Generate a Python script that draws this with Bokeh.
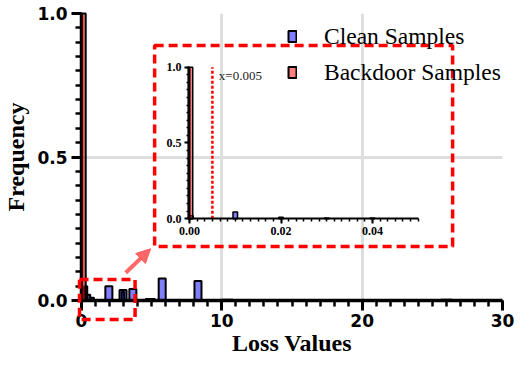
from bokeh.plotting import figure
from bokeh.models import (Range1d, LinearAxis, FixedTicker, Legend, LegendItem,
                          Arrow, NormalHead, Label, NumeralTickFormatter)
from bokeh.embed import file_html
from bokeh.resources import INLINE

# ---------------- data ----------------
# main histogram (loss values 0..30)
clean_x = [0.3, 0.52, 0.76, 1.95, 2.96, 2.95, 3.66, 4.9, 5.75, 8.3, 10.4, 26.0]
clean_h = [0.05, 0.02, 0.01, 0.05, 0.037, 0.03, 0.04, 0.005, 0.077, 0.068, 0.003, 0.003]
clean_w = [0.22, 0.2, 0.25, 0.5, 0.5, 0.18, 0.5, 0.65, 0.5, 0.5, 0.8, 0.8]
backdoor_x = [0.0]
backdoor_h = [1.0]
backdoor_w = [0.6]

# inset (zoom on 0..0.05)
inset_clean_x = [0.0003, 0.01, 0.02, 0.03, 0.04]
inset_clean_h = [0.02, 0.045, 0.01, 0.004, 0.004]
inset_backdoor_x = [0.0002]
inset_backdoor_h = [1.0]
inset_w = 0.001
threshold = 0.005

main_xticks = [0, 10, 20, 30]
main_yticks = [0.0, 0.5, 1.0]
inset_xticks = [0.0, 0.02, 0.04]
inset_yticks = [0.0, 0.5, 1.0]

# ---------------- layout (screen pixels) ----------------
W, H = 514, 360
OX, OY = 4, 1                        # where the figure's top-left lands on screen
FL, FR, FT, FB = 84, 506, 14, 301    # main frame edges on screen
X0, X1, Y0, Y1 = 0, 30, 0.0, 1.0


def mx(px):
    return X0 + (px - FL) / (FR - FL) * (X1 - X0)


def my(py):
    return Y0 + (FB - py) / (FB - FT) * (Y1 - Y0)


p = figure(width=W, height=H, x_range=Range1d(X0, X1), y_range=Range1d(Y0, Y1),
           output_backend="svg", toolbar_location=None,
           min_border_left=FL - OX, min_border_right=W - (FR - OX),
           min_border_top=FT - OY, min_border_bottom=H - (FB - OY))
p.outline_line_color = None

xa = p.xaxis[0]
ya = p.yaxis[0]
xa.ticker = FixedTicker(ticks=main_xticks, minor_ticks=list(range(0, 31)))
ya.ticker = FixedTicker(ticks=main_yticks, minor_ticks=[round(i * 0.05, 2) for i in range(21)])
ya.formatter = NumeralTickFormatter(format="0.0")
for ax in (xa, ya):
    ax.axis_line_width = 3.5
    ax.axis_line_color = "black"
    ax.major_tick_line_width = 3
    ax.minor_tick_line_width = 2.5
    ax.major_tick_out = 10
    ax.major_tick_in = 0
    ax.minor_tick_out = 6
    ax.minor_tick_in = 0
    ax.major_label_text_font = "DejaVu Sans"
    ax.major_label_text_font_style = "bold"
    ax.major_label_text_font_size = "17px"
    ax.major_label_text_color = "black"
    ax.axis_label_text_font = "Liberation Serif"
    ax.axis_label_text_font_style = "bold"
    ax.axis_label_text_font_size = "24px"
    ax.axis_label_text_color = "black"
xa.major_label_standoff = 3
xa.axis_label_standoff = 0
ya.major_label_standoff = 4
ya.axis_label_standoff = 5
xa.axis_label = "Loss Values"
ya.axis_label = "Frequency"

p.grid.grid_line_color = "#dedede"
p.grid.grid_line_width = 3

r_clean = p.vbar(x=clean_x, top=clean_h, width=clean_w, bottom=0,
                 fill_color="blue", fill_alpha=0.5, line_color="black", line_width=2)
r_bd = p.vbar(x=backdoor_x, top=backdoor_h, width=backdoor_w, bottom=0,
              fill_color="red", fill_alpha=0.5, line_color="black", line_width=2,
              level="overlay")

# ---------------- inset via extra ranges ----------------
IL, IR, IB, IT = 192.3, 421.5, 219.2, 67.7   # screen pixels of inset x=0, 0.05, y=0, 1
ixs = 0.05 / (IR - IL)
iys = 1.0 / (IB - IT)
p.extra_x_ranges = {"ix": Range1d(0 - (IL - FL) * ixs, 0.05 + (FR - IR) * ixs)}
p.extra_y_ranges = {"iy": Range1d(0 - (FB - IB) * iys, 1.0 + (IT - FT) * iys)}

iax = LinearAxis(x_range_name="ix", y_range_name="iy", fixed_location=0, bounds=(0, 0.05),
                 ticker=FixedTicker(ticks=inset_xticks,
                                    minor_ticks=[i * 0.01 / 6 for i in range(31)]),
                 formatter=NumeralTickFormatter(format="0.00"))
iay = LinearAxis(x_range_name="ix", y_range_name="iy", fixed_location=0, bounds=(0, 1.0),
                 ticker=FixedTicker(ticks=inset_yticks,
                                    minor_ticks=[round(i * 0.05, 2) for i in range(21)]),
                 formatter=NumeralTickFormatter(format="0.0"))
for ax in (iax, iay):
    ax.axis_line_width = 2
    ax.major_tick_line_width = 2
    ax.minor_tick_line_width = 1.5
    ax.major_tick_out = 5
    ax.major_tick_in = 0
    ax.minor_tick_out = 3
    ax.minor_tick_in = 0
    ax.major_label_text_font = "Liberation Serif"
    ax.major_label_text_font_style = "bold"
    ax.major_label_text_font_size = "12px"
    ax.major_label_text_color = "black"
    ax.major_label_standoff = 3
p.add_layout(iax, "below")
p.add_layout(iay, "left")

p.vbar(x=inset_clean_x, top=inset_clean_h, width=inset_w, bottom=0,
       x_range_name="ix", y_range_name="iy",
       fill_color="blue", fill_alpha=0.5, line_color="black", line_width=1.5)
p.vbar(x=inset_backdoor_x, top=inset_backdoor_h, width=inset_w, bottom=0,
       x_range_name="ix", y_range_name="iy",
       fill_color="red", fill_alpha=0.5, line_color="black", line_width=1.5)
p.segment(x0=[threshold], y0=[0], x1=[threshold], y1=[1.0],
          x_range_name="ix", y_range_name="iy",
          line_color="red", line_width=2.5, line_dash="3 2")
p.add_layout(Label(x=threshold + 0.0014, y=0.945, x_range_name="ix", y_range_name="iy",
                   text=f"x={threshold}", text_font="Liberation Serif", text_font_size="13px",
                   text_baseline="middle", text_color="#222222"))

# ---------------- zoom markers ----------------
p.quad(left=[mx(82)], right=[mx(137.7)], bottom=[my(320)], top=[my(280)], fill_color=None,
       line_color="red", line_width=3.5, line_dash="9 5", level="overlay")
p.quad(left=[mx(157.3)], right=[mx(456)], bottom=[my(247)], top=[my(46)], fill_color=None,
       line_color="red", line_width=3.5, line_dash="9 5", level="overlay")
p.add_layout(Arrow(end=NormalHead(size=14, fill_color="#ff4d4d", line_color="#ff4d4d",
                                  fill_alpha=0.85, line_alpha=0.85),
                   x_start=mx(128.3), y_start=my(273.3), x_end=mx(153.3), y_end=my(249.3),
                   line_color="#ff4d4d", line_width=4, line_alpha=0.85))

# ---------------- legend ----------------
legend = Legend(items=[LegendItem(label="Clean Samples", renderers=[r_clean]),
                       LegendItem(label="Backdoor Samples", renderers=[r_bd])],
                location=(290 - FL, FB - 86.5), glyph_width=10, glyph_height=14,
                label_standoff=27, spacing=9, padding=0, margin=0,
                background_fill_alpha=0, border_line_alpha=0,
                label_text_font="Liberation Serif", label_text_font_size="23.5px",
                label_text_color="black")
p.add_layout(legend)

open("out.html", "w").write(file_html(p, INLINE))
